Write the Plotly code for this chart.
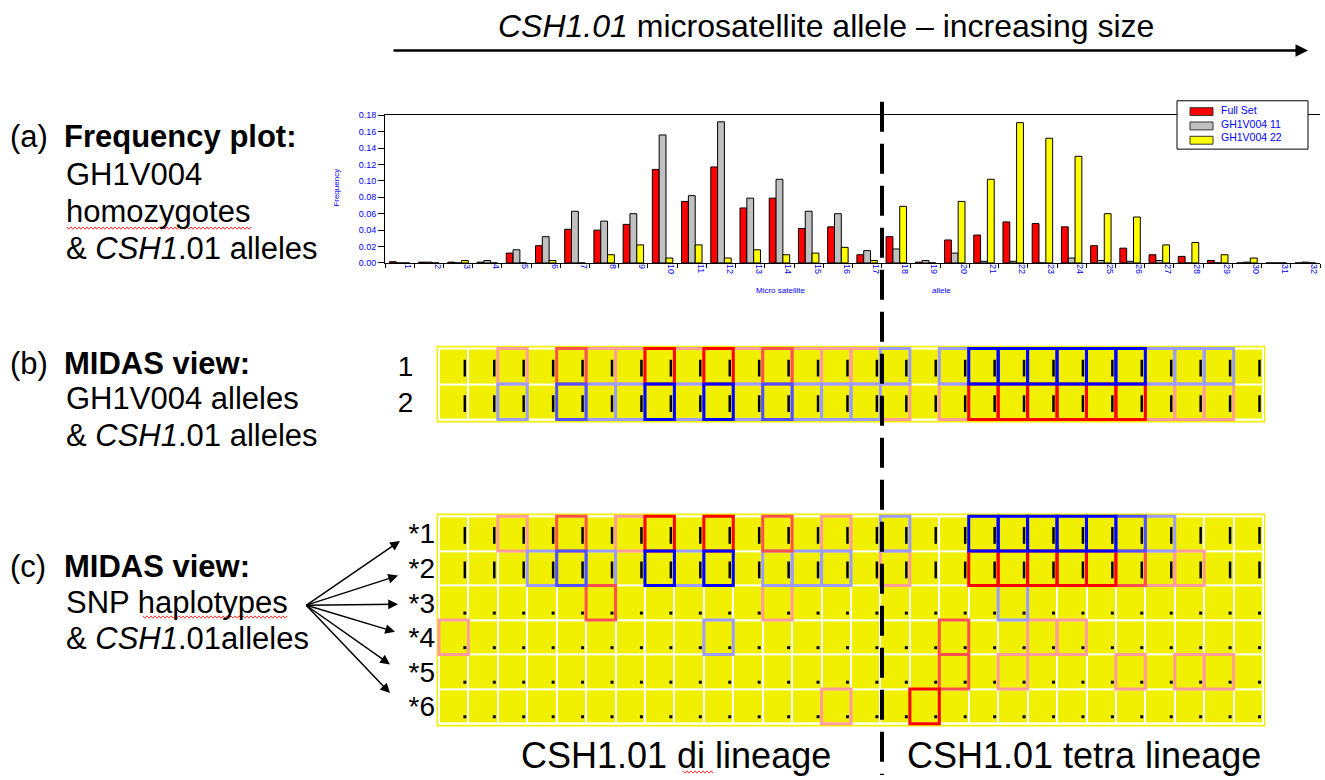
import plotly.graph_objects as go

W, H = 1325, 780
def px(x): return x / W
def py(y): return 1 - y / H

# ---------------- data: frequency plot ----------------
alleles = list(range(1, 33))
full_set = [0.0015, 0.001, 0.001, 0.001, 0.012, 0.021, 0.041, 0.040, 0.047, 0.114,
            0.075, 0.117, 0.067, 0.079, 0.042, 0.044, 0.010, 0.032, 0.001, 0.028,
            0.034, 0.050, 0.048, 0.044, 0.021, 0.018, 0.010, 0.008, 0.003, 0.0, 0.0, 0.0]
gh_11 = [0.0, 0.001, 0.0, 0.003, 0.016, 0.032, 0.063, 0.051, 0.060, 0.156,
         0.082, 0.172, 0.079, 0.102, 0.063, 0.060, 0.015, 0.017, 0.003, 0.012,
         0.002, 0.002, 0.0, 0.006, 0.003, 0.002, 0.003, 0.0, 0.0, 0.001, 0.0, 0.001]
gh_22 = [0.0, 0.0, 0.003, 0.0, 0.0, 0.003, 0.0, 0.010, 0.022, 0.006,
         0.022, 0.006, 0.016, 0.010, 0.012, 0.019, 0.003, 0.069, 0.0, 0.075,
         0.102, 0.171, 0.152, 0.130, 0.060, 0.056, 0.022, 0.025, 0.010, 0.006, 0.0, 0.0]
series_names = ["Full Set", "GH1V004 11", "GH1V004 22"]
series_colors = ["#ff0000", "#c0c0c0", "#ffff00"]
y_ticks = [0.00, 0.02, 0.04, 0.06, 0.08, 0.10, 0.12, 0.14, 0.16, 0.18]

# ---------------- data: MIDAS views ----------------
n_cols = 28
midas_b_labels = ["1", "2"]
midas_b_boxes = [
    "..p.rppRpRprpppq.qBBBBBBqqq.",
    "..q.bqqBqBqbqqqp.pRRRRRRppp.",
]
midas_b_marks = ["bar", "bar"]

midas_c_labels = ["*1", "*2", "*3", "*4", "*5", "*6"]
midas_c_boxes = [
    "..p.r.pR.R.r.p.q..BBBBBbq...",
    "...qbq.BqB.qqq.p..RRRRRrpp..",
    ".....r.....p.......q........",
    "p........q.......r..pp......",
    ".................r.p...p.pp.",
    ".............p..R...........",
]
midas_c_marks = ["bar", "bar", "dot", "dot", "dot", "dot"]

box_colors = {"p": "#ff9c9c", "q": "#9c9cff", "r": "#ff5050", "b": "#5050ff",
              "R": "#ff0000", "B": "#0000ff"}
box_order = ["p", "q", "r", "b", "R", "B"]

YELLOW = "#f0f000"
BLUE_TXT = "#0000ff"
FONT = "Liberation Sans, Arial, sans-serif"

fig = go.Figure()

# frequency bars
for name, vals, col in zip(series_names, [full_set, gh_11, gh_22], series_colors):
    fig.add_trace(go.Bar(x=alleles, y=vals, name=name, xaxis="x", yaxis="y",
                         marker=dict(color=col, line=dict(color="black", width=1)),
                         hoverinfo="skip", showlegend=False))
# invisible trace for the label axis
fig.add_trace(go.Scatter(x=[None], y=[None], xaxis="x4", yaxis="y",
                         showlegend=False, hoverinfo="skip"))

def add_midas(labels, boxes, marks, xa, ya):
    nr = len(labels)
    # yellow frame with a thin white inner line
    fig.add_shape(type="rect", xref=xa, yref=ya, x0=-0.58, x1=n_cols - 0.42,
                  y0=-0.58, y1=nr - 0.42, fillcolor=YELLOW, line=dict(width=0),
                  layer="below")
    fig.add_shape(type="rect", xref=xa, yref=ya, x0=-0.53, x1=n_cols - 0.47,
                  y0=-0.53, y1=nr - 0.47, fillcolor="white", line=dict(width=0),
                  layer="below")
    fig.add_trace(go.Heatmap(z=[[1] * n_cols for _ in range(nr)],
                             x=list(range(n_cols)), y=list(range(nr)),
                             colorscale=[[0, YELLOW], [1, YELLOW]], showscale=False,
                             xgap=2, ygap=2, xaxis=xa, yaxis=ya, hoverinfo="skip"))
    bx, by, dx, dy = [], [], [], []
    for r, m in enumerate(marks):
        for c in range(n_cols):
            if m == "bar":
                bx.append(c + 0.38); by.append(r + 0.05)
            else:
                dx.append(c + 0.38); dy.append(r + 0.3)
    if bx:
        fig.add_trace(go.Scatter(x=bx, y=by, mode="markers", xaxis=xa, yaxis=ya,
                                 marker=dict(symbol="line-ns", size=12,
                                             line=dict(width=2.5, color="black")),
                                 showlegend=False, hoverinfo="skip"))
    if dx:
        fig.add_trace(go.Scatter(x=dx, y=dy, mode="markers", xaxis=xa, yaxis=ya,
                                 marker=dict(symbol="square", size=3, color="black"),
                                 showlegend=False, hoverinfo="skip"))
    for lvl in box_order:
        for r, row in enumerate(boxes):
            for c, ch in enumerate(row):
                if ch == lvl:
                    fig.add_shape(type="rect", xref=xa, yref=ya,
                                  x0=c - 0.5, x1=c + 0.5, y0=r - 0.5, y1=r + 0.5,
                                  line=dict(color=box_colors[lvl], width=3),
                                  fillcolor="rgba(0,0,0,0)")

add_midas(midas_b_labels, midas_b_boxes, midas_b_marks, "x2", "y2")
add_midas(midas_c_labels, midas_c_boxes, midas_c_marks, "x3", "y3")

axis_off = dict(showgrid=False, zeroline=False, showticklabels=False, ticks="",
                showline=False)

fig.update_layout(
    width=W, height=H, margin=dict(l=0, r=0, t=0, b=0),
    paper_bgcolor="white", plot_bgcolor="white",
    font=dict(family=FONT, color="black"),
    barmode="group", bargap=0.3, bargroupgap=0,
    showlegend=False,
    xaxis=dict(domain=[px(385), px(1320)], range=[0.5, 32.5], anchor="y",
               tickvals=[a - 0.5 for a in alleles] + [32.5],
               ticktext=[""] * 33, ticks="outside", ticklen=4,
               tickcolor="black", showline=True, linecolor="black",
               linewidth=1, mirror=True, showgrid=False, zeroline=False),
    xaxis4=dict(overlaying="x", anchor="y", side="bottom", range=[0.5, 32.5],
                tickvals=[a + 0.3 for a in alleles],
                ticktext=[str(a) for a in alleles], tickangle=90, ticks="",
                tickfont=dict(size=9, color=BLUE_TXT), showline=False,
                showgrid=False, zeroline=False),
    yaxis=dict(domain=[py(261.3), py(111.7)], range=[0, 0.18], anchor="x",
               tickvals=y_ticks, tickformat=".2f", ticks="outside", ticklen=6,
               tickcolor="black", tickfont=dict(size=9, color=BLUE_TXT),
               showline=True, linecolor="black", linewidth=1,
               showgrid=False, zeroline=False),
    xaxis2=dict(domain=[px(436), px(1266)], range=[-0.6, n_cols - 0.4],
                anchor="y2", **axis_off),
    yaxis2=dict(domain=[py(423.6), py(344.4)], range=[1.6, -0.6], anchor="x2",
                tickvals=list(range(len(midas_b_labels))), ticktext=midas_b_labels,
                tickfont=dict(size=28, color="black", family=FONT),
                ticks="outside", ticklen=16, tickcolor="rgba(0,0,0,0)",
                showgrid=False, zeroline=False, showline=False),
    xaxis3=dict(domain=[px(436), px(1266)], range=[-0.6, n_cols - 0.4],
                anchor="y3", **axis_off),
    yaxis3=dict(domain=[py(731.5), py(514.5)], range=[5.6, -0.6], anchor="x3",
                tickvals=list(range(len(midas_c_labels))), ticktext=midas_c_labels,
                tickfont=dict(size=28, color="black", family=FONT),
                ticks="", showgrid=False, zeroline=False, showline=False),
)

ann = []
def text(x, y, s, size, xanchor="left", color="black", angle=0, align="left"):
    ann.append(dict(x=px(x), y=py(y), xref="paper", yref="paper", text=s,
                    showarrow=False, xanchor=xanchor, yanchor="middle", align=align,
                    textangle=angle, font=dict(size=size, color=color, family=FONT)))

# title and arrow
text(826, 21, "<i>CSH1.01</i> microsatellite allele – increasing size", 32, "center")
ann.append(dict(x=px(1308), y=py(46), xref="paper", yref="paper", ax=-(1308 - 392),
                ay=0, showarrow=True, arrowhead=2, arrowsize=1, arrowwidth=2.5,
                arrowcolor="black", text=""))

# frequency plot axis titles
text(337, 185, "Frequency", 8, "center", BLUE_TXT, -90)
text(780, 289, "Micro satellite", 8, "center", BLUE_TXT)
text(941, 289, "allele", 8, "center", BLUE_TXT)

# manual legend box (matches the small legend of the original)
fig.add_shape(type="rect", xref="paper", yref="paper", x0=px(1177), x1=px(1308),
              y0=py(146), y1=py(97), fillcolor="white", line=dict(color="black", width=1))
for i, col in enumerate(series_colors):
    yc = 108 + i * 14.5
    fig.add_shape(type="rect", xref="paper", yref="paper", x0=px(1190), x1=px(1213),
                  y0=py(yc + 4), y1=py(yc - 4), fillcolor=col,
                  line=dict(color="#333333", width=1))
text(1219, 120, "<br>".join(series_names), 10.5, "left", BLUE_TXT)

# left-hand labels
text(8, 133, "(a)", 31); text(62, 133, "<b>Frequency plot:</b>", 31)
text(64, 172, "GH1V004", 31)
text(64, 209, "homozygotes", 31)
text(64, 247, "& <i>CSH1</i>.01 alleles", 31)

text(8, 363, "(b)", 31); text(62, 363, "<b>MIDAS view:</b>", 31)
text(64, 399, "GH1V004 alleles", 31)
text(64, 436, "& <i>CSH1</i>.01 alleles", 31)

text(8, 569, "(c)", 31); text(62, 569, "<b>MIDAS view:</b>", 31)
text(64, 605, "SNP haplotypes", 31)
text(64, 642, "& <i>CSH1</i>.01alleles", 31)

# arrows to haplotypes
for tx, ty in [(400, 543), (398, 578), (398, 607), (395, 635), (390, 668), (390, 697)]:
    ann.append(dict(x=px(tx), y=py(ty), xref="paper", yref="paper",
                    ax=305 - tx, ay=608 - ty, showarrow=True, arrowhead=2,
                    arrowsize=1.3, arrowwidth=1.5, arrowcolor="black", text=""))

# bottom lineage labels
text(676, 760, "CSH1.01 di lineage", 36, "center")
text(1084, 760, "CSH1.01 tetra lineage", 36, "center")

fig.update_layout(annotations=ann)

# spell-check squiggles seen under a few words in the original slide
def squiggle(x0, x1, y):
    pts = []
    x, up = x0, True
    while x <= x1:
        pts.append(f"{px(x):.5f},{py(y - 1.2 if up else y + 1.2):.5f}")
        x += 2; up = not up
    return "M " + " L ".join(pts)

for x0, x1, y in [(67, 252, 226), (143, 288, 620), (683, 714, 777)]:
    fig.add_shape(type="path", xref="paper", yref="paper", path=squiggle(x0, x1, y),
                  line=dict(color="#ff0000", width=0.8))

# dashed divider between lineages
fig.add_shape(type="line", xref="paper", yref="paper", x0=px(882), x1=px(882),
              y0=py(98), y1=py(780), line=dict(color="black", width=4, dash="30px,12px"))

fig.write_html("out.html", post_script="document.body.style.margin='0px';",
               config={"displayModeBar": False})
